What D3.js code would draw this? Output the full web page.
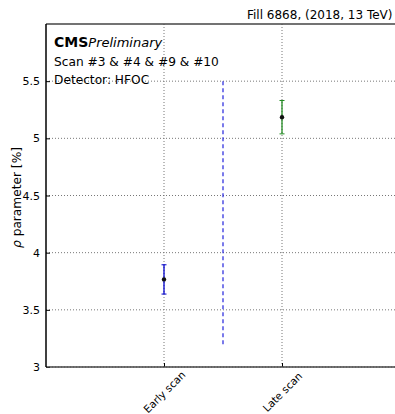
<!DOCTYPE html>
<html><head><meta charset="utf-8">
<script src="https://cdn.jsdelivr.net/npm/d3@7"></script>
<style>body{margin:0;background:#fff}svg{display:block}text{font-family:"DejaVu Sans",sans-serif}</style>
</head><body>
<script>
const categories = ["Early scan", "Late scan"];
const values = [3.766, 5.185];
const errors = [0.128, 0.146];
const colors = ["#0000cc", "#228b22"];
const yTicks = [3, 3.5, 4, 4.5, 5, 5.5];
const yTickLabels = ["3", "3.5", "4", "4.5", "5", "5.5"];
const separator = {x: 0.5, y0: 3.2, y1: 5.5};

const W = 395, H = 414;
const m = {left: 46, top: 24, right: 400, bottom: 367};
const svg = d3.select("body").append("svg").attr("width", W).attr("height", H);
const x = d3.scaleLinear().domain([-1, 2]).range([m.left, m.right]);
const y = d3.scaleLinear().domain([3, 6]).range([m.bottom, m.top]);

// grid
svg.append("g").selectAll("line").data(yTicks).join("line")
  .attr("x1", m.left).attr("x2", W).attr("y1", d => y(d)).attr("y2", d => y(d))
  .attr("stroke", "#777").attr("stroke-width", 1).attr("stroke-dasharray", "1,2");
svg.append("g").selectAll("line").data(categories).join("line")
  .attr("x1", (d, i) => x(i)).attr("x2", (d, i) => x(i)).attr("y1", m.top).attr("y2", m.bottom)
  .attr("stroke", "#777").attr("stroke-width", 1).attr("stroke-dasharray", "1,2");

// separator
svg.append("line").attr("x1", x(separator.x)).attr("x2", x(separator.x))
  .attr("y1", y(separator.y1)).attr("y2", y(separator.y0))
  .attr("stroke", "#2222dd").attr("stroke-width", 1.2).attr("stroke-dasharray", "4,3");

// axes
const yAxis = d3.axisLeft(y).tickValues(yTicks).tickFormat((d, i) => yTickLabels[i]).tickSize(-4).tickPadding(6);
const gy = svg.append("g").attr("transform", `translate(${m.left},0)`).call(yAxis);
gy.select(".domain").remove();
gy.selectAll("text").attr("font-size", 11).attr("fill", "#000").attr("font-family", "DejaVu Sans");
gy.selectAll("line").attr("stroke", "#000");

const xAxis = d3.axisBottom(x).tickValues([0, 1]).tickFormat(d => categories[d]).tickSize(-4).tickPadding(6);
const gx = svg.append("g").attr("transform", `translate(0,${m.bottom})`).call(xAxis);
gx.select(".domain").remove();
gx.selectAll("line").attr("stroke", "#000");
gx.selectAll("text").attr("font-size", 10.5).attr("fill", "#000").attr("font-family", "DejaVu Sans")
  .attr("text-anchor", "middle").attr("x", 0).attr("y", 0).attr("dy", "0.35em")
  .attr("transform", "translate(0,25) rotate(-45)");

// frame
svg.append("line").attr("x1", m.left).attr("x2", W).attr("y1", m.top).attr("y2", m.top).attr("stroke", "#444").attr("stroke-width", 1.5);
svg.append("line").attr("x1", m.left).attr("x2", W).attr("y1", m.bottom).attr("y2", m.bottom).attr("stroke", "#444").attr("stroke-width", 1.5);
svg.append("line").attr("x1", m.left).attr("x2", m.left).attr("y1", m.top).attr("y2", m.bottom).attr("stroke", "#000").attr("stroke-width", 1.5);

// error bars
const g = svg.append("g");
values.forEach((v, i) => {
  const cx = x(i);
  g.append("line").attr("x1", cx).attr("x2", cx).attr("y1", y(v - errors[i])).attr("y2", y(v + errors[i]))
    .attr("stroke", colors[i]).attr("stroke-width", 1.3);
  [v - errors[i], v + errors[i]].forEach(e => g.append("line").attr("x1", cx - 2.5).attr("x2", cx + 2.5)
    .attr("y1", y(e)).attr("y2", y(e)).attr("stroke", colors[i]).attr("stroke-width", 1));
  g.append("circle").attr("cx", cx).attr("cy", y(v)).attr("r", 2.2).attr("fill", "#111");
});

// texts
const t1 = svg.append("text").attr("x", 54).attr("y", 47).attr("font-size", 14);
t1.append("tspan").attr("font-weight", "bold").text("CMS");
t1.append("tspan").attr("font-style", "italic").attr("font-size", 13).text("Preliminary");
svg.append("text").attr("x", 54).attr("y", 66).attr("font-size", 12.2).text("Scan #3 & #4 & #9 & #10");
svg.append("text").attr("x", 54).attr("y", 84).attr("font-size", 12.2).text("Detector: HFOC");
svg.append("text").attr("x", 247).attr("y", 19).attr("font-size", 12).text("Fill 6868, (2018, 13 TeV)");

const yl = svg.append("text").attr("transform", `translate(21,${(m.top + m.bottom) / 2 + 2}) rotate(-90)`)
  .attr("text-anchor", "middle").attr("font-size", 12.2);
yl.append("tspan").attr("font-style", "italic").text("ρ");
yl.append("tspan").text(" parameter [%]");
</script>
</body></html>
